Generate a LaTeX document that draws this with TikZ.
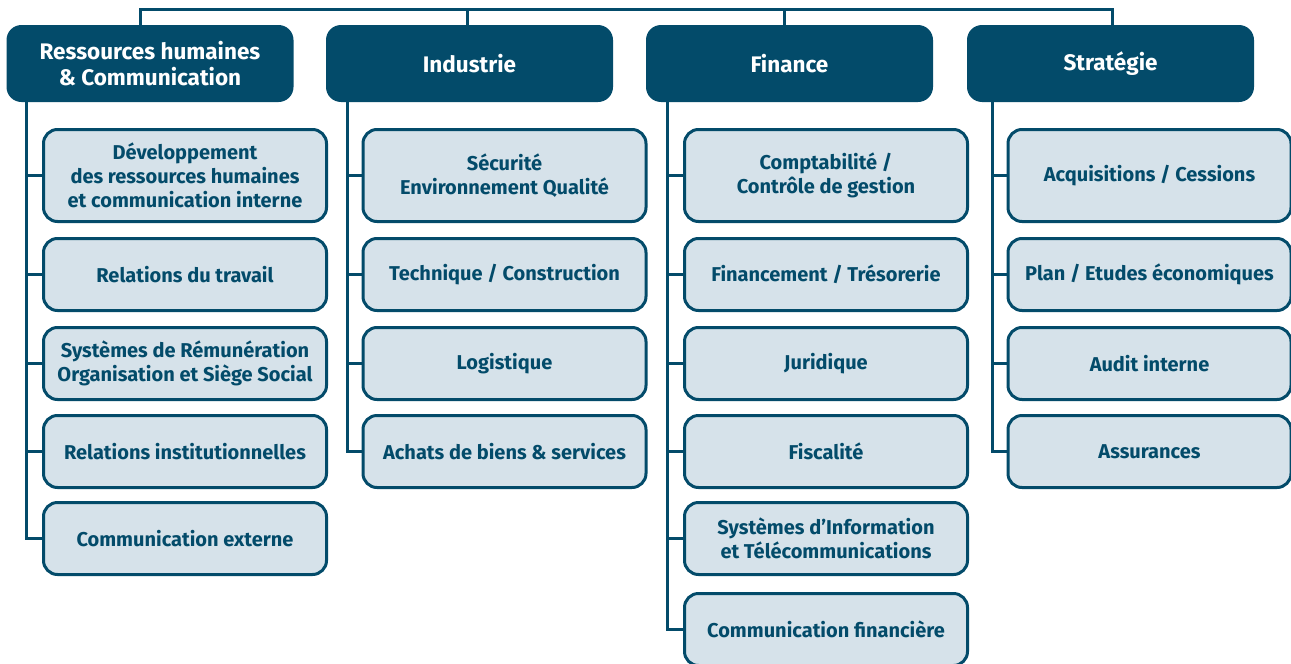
\documentclass[tikz,border=0pt]{standalone}
\usepackage{fontspec}
\setmainfont{Fira Sans}
\definecolor{navy}{HTML}{034B6A}
\definecolor{pale}{HTML}{D6E2EA}
\tikzset{
  head/.style={rounded corners=15pt, fill=navy, text=white, align=center,
    font=\bfseries\fontsize{22.5}{26}\selectfont,
    minimum width=287pt, minimum height=77pt, inner sep=0pt},
  unit/.style={draw=navy, line width=3pt, fill=pale, rounded corners=14pt,
    text=navy, align=center, font=\bfseries\fontsize{20}{24}\selectfont,
    minimum width=283pt, minimum height=72pt, inner sep=0pt},
  tall/.style={minimum height=92pt},
  link/.style={draw=navy, line width=3pt},
}
\begin{document}
\begin{tikzpicture}[x=1pt,y=-1pt]
\useasboundingbox (0,0) rectangle (1291,664);

% department headers
\node[head] (rh) at (150,63.5) {Ressources humaines\\\& Communication};
\node[head] (ind) at (469.5,63.5) {Industrie};
\node[head] (fin) at (789.5,63.5) {Finance};
\node[head] (str) at (1110.5,63.5) {Stratégie};

% Ressources humaines & Communication
\node[unit,tall] (rh1) at (185,175.5) {Développement\\des ressources humaines\\et communication interne};
\node[unit] (rh2) at (185,274.5) {Relations du travail};
\node[unit] (rh3) at (185,363.5) {Systèmes de Rémunération\\Organisation et Siège Social};
\node[unit] (rh4) at (185,451.5) {Relations institutionnelles};
\node[unit] (rh5) at (185,538.5) {Communication externe};

% Industrie
\node[unit,tall] (ind1) at (504.5,175.5) {Sécurité\\Environnement Qualité};
\node[unit] (ind2) at (504.5,274.5) {Technique / Construction};
\node[unit] (ind3) at (504.5,363.5) {Logistique};
\node[unit] (ind4) at (504.5,451.5) {Achats de biens \& services};

% Finance
\node[unit,tall] (fin1) at (826,175.5) {Comptabilité /\\Contrôle de gestion};
\node[unit] (fin2) at (826,274.5) {Financement / Trésorerie};
\node[unit] (fin3) at (826,363.5) {Juridique};
\node[unit] (fin4) at (826,451.5) {Fiscalité};
\node[unit] (fin5) at (826,538.5) {Systèmes d’Information\\et Télécommunications};
\node[unit] (fin6) at (826,629.5) {Communication financière};

% Stratégie
\node[unit,tall] (str1) at (1149.5,175.5) {Acquisitions / Cessions};
\node[unit] (str2) at (1149.5,274.5) {Plan / Etudes économiques};
\node[unit] (str3) at (1149.5,363.5) {Audit interne};
\node[unit] (str4) at (1149.5,451.5) {Assurances};

% top bus and drops to each header
\coordinate (d1) at (140,9);
\coordinate (d2) at (467,9);
\coordinate (d3) at (784,9);
\coordinate (d4) at (1112,9);
\draw[link] (d1 |- rh.north) -- (d1) -- (d4) -- (d4 |- str.north);
\draw[link] (d2) -- (d2 |- ind.north);
\draw[link] (d3) -- (d3 |- fin.north);

% column spines
\coordinate (s1) at (26,0);
\coordinate (s2) at (347,0);
\coordinate (s3) at (667,0);
\coordinate (s4) at (992,0);
\draw[link] (rh.south -| s1) |- (rh5.west);
\foreach \n in {rh1,rh2,rh3,rh4} \draw[link] (\n.west -| s1) -- (\n.west);
\draw[link] (ind.south -| s2) |- (ind4.west);
\foreach \n in {ind1,ind2,ind3} \draw[link] (\n.west -| s2) -- (\n.west);
\draw[link] (fin.south -| s3) |- (fin6.west);
\foreach \n in {fin1,fin2,fin3,fin4,fin5} \draw[link] (\n.west -| s3) -- (\n.west);
\draw[link] (str.south -| s4) |- (str4.west);
\foreach \n in {str1,str2,str3} \draw[link] (\n.west -| s4) -- (\n.west);
\end{tikzpicture}
\end{document}
